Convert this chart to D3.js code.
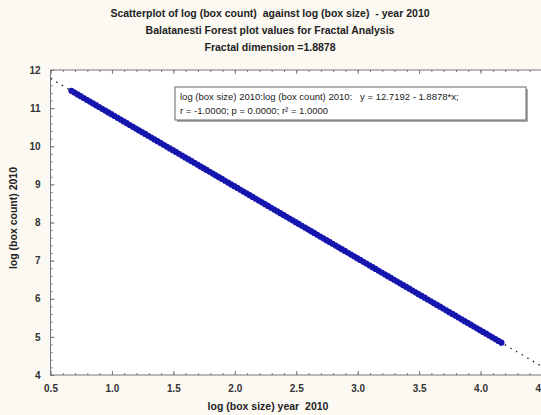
<!DOCTYPE html>
<html>
<head>
<meta charset="utf-8">
<script src="https://d3js.org/d3.v7.min.js"></script>
<style>
body, html {
    margin: 0;
    padding: 0;
    background: #fcf9f3;
    font-family: "Liberation Sans", Arial, sans-serif;
}
svg text { white-space: pre; }
.title { font-size: 10.5px; font-weight: bold; fill: #222; }
.tick text { font-size: 10px; font-weight: bold; fill: #333; }
.reg { fill: none; stroke: #222; stroke-width: 1.3; stroke-dasharray: 1.5,5; }
.legend text { font-size: 9.5px; fill: #222; }
</style>
</head>
<body>
<div id="chart"></div>
<script>

var titles = ["Scatterplot of log (box count)  against log (box size)  - year 2010",
              "Balatanesti Forest plot values for Fractal Analysis",
              "Fractal dimension =1.8878"];
var xLabel = "log (box size) year  2010",
    yLabel = "log (box count) 2010";

var xTicks = [0.5, 1.0, 1.5, 2.0, 2.5, 3.0, 3.5, 4.0, 4.5];
var yTicks = [4, 5, 6, 7, 8, 9, 10, 11, 12];

// regression from the legend
var intercept = 12.7192, slope = -1.8878;
var legendLines = ["log (box size) 2010:log (box count) 2010:   y = 12.7192 - 1.8878*x;",
                   "r = -1.0000; p = 0.0000; r\u00B2 = 1.0000"];

// log box size / log box count points
var logSize = [0.67, 0.72, 0.77, 0.82, 0.87, 0.92, 0.97, 1.02, 1.07, 1.12,
               1.17, 1.22, 1.27, 1.32, 1.37, 1.42, 1.47, 1.52, 1.57, 1.62,
               1.67, 1.72, 1.77, 1.82, 1.87, 1.92, 1.97, 2.02, 2.07, 2.12,
               2.17, 2.22, 2.27, 2.32, 2.37, 2.42, 2.47, 2.52, 2.57, 2.62,
               2.67, 2.72, 2.77, 2.82, 2.87, 2.92, 2.97, 3.02, 3.07, 3.12,
               3.17, 3.22, 3.27, 3.32, 3.37, 3.42, 3.47, 3.52, 3.57, 3.62,
               3.67, 3.72, 3.77, 3.82, 3.87, 3.92, 3.97, 4.02, 4.07, 4.12, 4.17];
var logCount = [11.454, 11.360, 11.266, 11.171, 11.077, 10.982, 10.888, 10.794, 10.699, 10.605,
                10.510, 10.416, 10.322, 10.227, 10.133, 10.039, 9.944, 9.850, 9.755, 9.661,
                9.567, 9.472, 9.378, 9.283, 9.189, 9.095, 9.000, 8.906, 8.811, 8.717,
                8.623, 8.528, 8.434, 8.340, 8.245, 8.151, 8.056, 7.962, 7.868, 7.773,
                7.679, 7.584, 7.490, 7.396, 7.301, 7.207, 7.112, 7.018, 6.924, 6.829,
                6.735, 6.640, 6.546, 6.452, 6.357, 6.263, 6.169, 6.074, 5.980, 5.885,
                5.791, 5.697, 5.602, 5.508, 5.413, 5.319, 5.225, 5.130, 5.036, 4.941, 4.847];
// in-between points of the same run
var logSize2 = [0.695, 0.745, 0.795, 0.845, 0.895, 0.945, 0.995, 1.045, 1.095, 1.145,
                1.195, 1.245, 1.295, 1.345, 1.395, 1.445, 1.495, 1.545, 1.595, 1.645,
                1.695, 1.745, 1.795, 1.845, 1.895, 1.945, 1.995, 2.045, 2.095, 2.145,
                2.195, 2.245, 2.295, 2.345, 2.395, 2.445, 2.495, 2.545, 2.595, 2.645,
                2.695, 2.745, 2.795, 2.845, 2.895, 2.945, 2.995, 3.045, 3.095, 3.145,
                3.195, 3.245, 3.295, 3.345, 3.395, 3.445, 3.495, 3.545, 3.595, 3.645,
                3.695, 3.745, 3.795, 3.845, 3.895, 3.945, 3.995, 4.045, 4.095, 4.145];
var logCount2 = [11.407, 11.313, 11.218, 11.124, 11.030, 10.935, 10.841, 10.746, 10.652, 10.558,
                 10.463, 10.369, 10.274, 10.180, 10.086, 9.991, 9.897, 9.803, 9.708, 9.614,
                 9.519, 9.425, 9.331, 9.236, 9.142, 9.047, 8.953, 8.859, 8.764, 8.670,
                 8.575, 8.481, 8.387, 8.292, 8.198, 8.104, 8.009, 7.915, 7.820, 7.726,
                 7.632, 7.537, 7.443, 7.348, 7.254, 7.160, 7.065, 6.971, 6.876, 6.782,
                 6.688, 6.593, 6.499, 6.405, 6.310, 6.216, 6.121, 6.027, 5.933, 5.838,
                 5.744, 5.649, 5.555, 5.461, 5.366, 5.272, 5.177, 5.083, 4.989, 4.894];

var width = 541, height = 415;
var pLeft = 50.5, pRight = 542, pTop = 70, pBottom = 375;

var svg = d3.select('#chart').append('svg')
    .attr('width', width)
    .attr('height', height);

var x = d3.scaleLinear().domain([0.5, 4.5]).range([pLeft, pRight]);
var y = d3.scaleLinear().domain([4, 12]).range([pBottom, pTop]);

// plot area
svg.append('rect')
    .attr('x', pLeft).attr('y', pTop)
    .attr('width', pRight - pLeft).attr('height', pBottom - pTop)
    .attr('fill', '#fff')
    .attr('stroke', '#777')
    .attr('stroke-width', 1);

// titles
titles.forEach(function (t, i) {
  svg.append('text')
    .attr('class', 'title')
    .attr('x', 270).attr('y', 17 + i * 17)
    .attr('text-anchor', 'middle')
    .text(t);
});

// axes (ticks inward)
var minorX = d3.range(0.5, 4.51, 0.1);
var minorY = d3.range(4, 12.01, 0.2);

function drawAxis(g, axis) {
  g.call(axis);
  g.select('.domain').remove();
  g.selectAll('.tick line').attr('stroke', '#777');
}

drawAxis(svg.append('g').attr('transform', 'translate(0,' + pBottom + ')'),
  d3.axisBottom(x).tickValues(xTicks).tickFormat(d3.format('.1f')).tickSize(-4).tickPadding(10));
drawAxis(svg.append('g').attr('transform', 'translate(0,' + pBottom + ')'),
  d3.axisBottom(x).tickValues(minorX).tickFormat('').tickSize(-2));
drawAxis(svg.append('g').attr('transform', 'translate(0,' + pTop + ')'),
  d3.axisTop(x).tickValues(xTicks).tickFormat('').tickSize(-4));
drawAxis(svg.append('g').attr('transform', 'translate(0,' + pTop + ')'),
  d3.axisTop(x).tickValues(minorX).tickFormat('').tickSize(-2));

drawAxis(svg.append('g').attr('transform', 'translate(' + pLeft + ',0)'),
  d3.axisLeft(y).tickValues(yTicks).tickFormat(d3.format('d')).tickSize(-4).tickPadding(10));
drawAxis(svg.append('g').attr('transform', 'translate(' + pLeft + ',0)'),
  d3.axisLeft(y).tickValues(minorY).tickFormat('').tickSize(-2));

// axis labels
svg.append('text')
    .attr('class', 'title')
    .attr('x', 268).attr('y', 410)
    .attr('text-anchor', 'middle')
    .text(xLabel);
svg.append('text')
    .attr('class', 'title')
    .attr('transform', 'translate(17,' + 218 + ') rotate(-90)')
    .attr('text-anchor', 'middle')
    .text(yLabel);

var plot = svg.append('g');
plot.append('clipPath').attr('id', 'clip')
  .append('rect').attr('x', pLeft).attr('y', pTop)
  .attr('width', pRight - pLeft).attr('height', pBottom - pTop);

// regression line
var line = d3.line().x(function (d) { return x(d); }).y(function (d) { return y(intercept + slope * d); });
plot.append('path')
    .datum([0.5, 4.5])
    .attr('class', 'reg')
    .attr('clip-path', 'url(#clip)')
    .attr('d', line);

// points
var pts = logSize.map(function (v, i) { return [v, logCount[i]]; })
  .concat(logSize2.map(function (v, i) { return [v, logCount2[i]]; }));
plot.selectAll('circle.point')
  .data(pts)
  .enter().append('circle')
    .attr('class', 'point')
    .attr('cx', function (d) { return x(d[0]); })
    .attr('cy', function (d) { return y(d[1]); })
    .attr('r', 3.1)
    .attr('fill', '#1616ae')
    .attr('stroke', 'none');

// legend box
var lg = svg.append('g').attr('class', 'legend');
lg.append('rect')
    .attr('x', 177).attr('y', 89).attr('width', 351).attr('height', 33)
    .attr('fill', '#aaa');
lg.append('rect')
    .attr('x', 175).attr('y', 87).attr('width', 351).attr('height', 33)
    .attr('fill', '#fff').attr('stroke', '#666');
legendLines.forEach(function (t, i) {
  lg.append('text')
    .attr('x', 180).attr('y', 100 + i * 14)
    .text(t);
});

</script>
</body>
</html>
